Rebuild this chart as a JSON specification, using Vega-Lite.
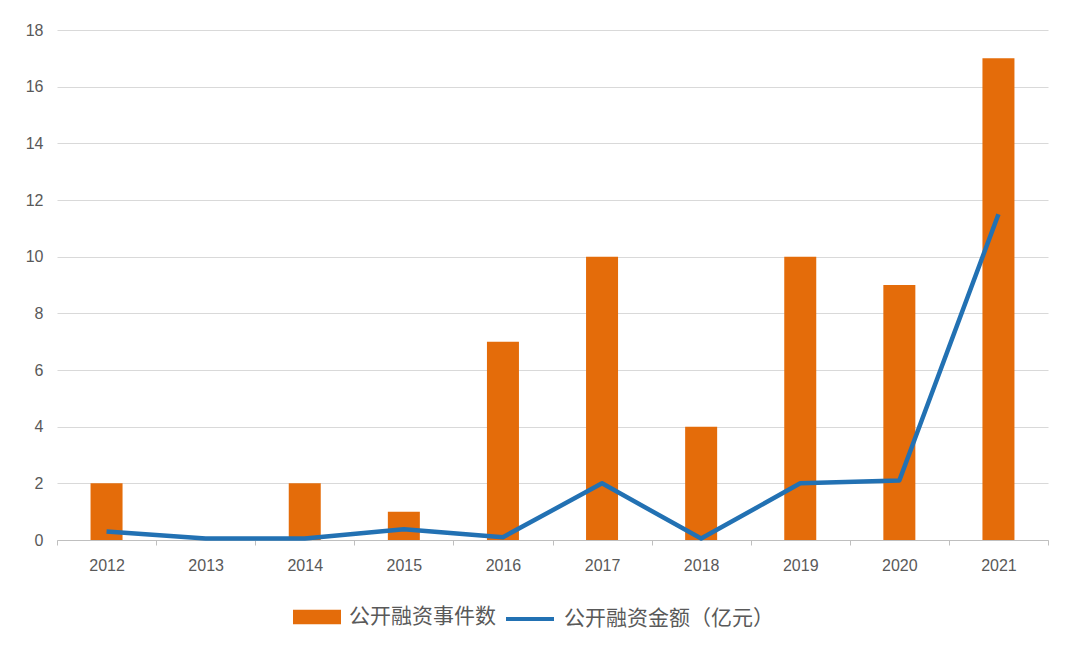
{
  "$schema": "https://vega.github.io/schema/vega-lite/v6.json",
  "description": "公开融资事件数与公开融资金额 2012-2021",
  "width": 991,
  "height": 510,
  "autosize": {"type": "none"},
  "padding": {"left": 57, "top": 30, "right": 32, "bottom": 120},
  "background": "white",
  "config": {
    "view": {"stroke": null},
    "font": "Noto Sans CJK SC",
    "legend": {"padding": 0}
  },
  "data": {
    "values": [
      {"year": "2012", "count": 2, "amount": 0.3},
      {"year": "2013", "count": 0, "amount": 0.05},
      {"year": "2014", "count": 2, "amount": 0.05},
      {"year": "2015", "count": 1, "amount": 0.38},
      {"year": "2016", "count": 7, "amount": 0.1},
      {"year": "2017", "count": 10, "amount": 2.0},
      {"year": "2018", "count": 4, "amount": 0.05},
      {"year": "2019", "count": 10, "amount": 2.0},
      {"year": "2020", "count": 9, "amount": 2.1},
      {"year": "2021", "count": 17, "amount": 11.5}
    ]
  },
  "encoding": {
    "x": {
      "field": "year", "type": "ordinal", "title": null,
      "scale": {"paddingInner": 0, "paddingOuter": 0},
      "axis": {
        "labelAngle": 0, "labelFontSize": 16, "labelColor": "#595959",
        "labelFont": "Liberation Sans",
        "domainColor": "#bfbfbf", "tickColor": "#bfbfbf", "tickSize": 5,
        "tickBand": "extent", "labelPadding": 12, "grid": false
      }
    }
  },
  "layer": [
    {
      "mark": {"type": "bar", "width": 32},
      "encoding": {
        "y": {
          "field": "count", "type": "quantitative", "title": null,
          "scale": {"domain": [0, 18]},
          "axis": {
            "values": [0, 2, 4, 6, 8, 10, 12, 14, 16, 18],
            "domain": false, "ticks": false, "gridColor": "#d9d9d9",
            "labelFontSize": 16, "labelColor": "#595959", "labelPadding": 14,
            "labelFont": "Liberation Sans"
          }
        },
        "fill": {
          "datum": "公开融资事件数",
          "scale": {"domain": ["公开融资事件数"], "range": ["#E46C0A"]},
          "legend": {
            "title": null,
            "orient": "none",
            "legendX": 236,
            "legendY": 563,
            "labelFontSize": 21,
            "labelColor": "#595959",
            "labelOffset": 8,
            "labelLimit": 400,
            "symbolType": "M-1,-0.3H1V0.3H-1Z",
            "symbolSize": 2304,
            "symbolStrokeWidth": 0
          }
        }
      }
    },
    {
      "mark": {"type": "line", "strokeWidth": 4.5, "strokeJoin": "round"},
      "encoding": {
        "y": {"field": "amount", "type": "quantitative"},
        "stroke": {
          "datum": "公开融资金额（亿元）",
          "scale": {"domain": ["公开融资金额（亿元）"], "range": ["#2271B3"]},
          "legend": {
            "title": null,
            "orient": "none",
            "legendX": 447,
            "legendY": 563,
            "labelFontSize": 21,
            "labelColor": "#595959",
            "labelOffset": 8,
            "labelLimit": 400,
            "symbolType": "stroke",
            "symbolSize": 2304,
            "symbolStrokeWidth": 4
          }
        }
      }
    }
  ]
}
